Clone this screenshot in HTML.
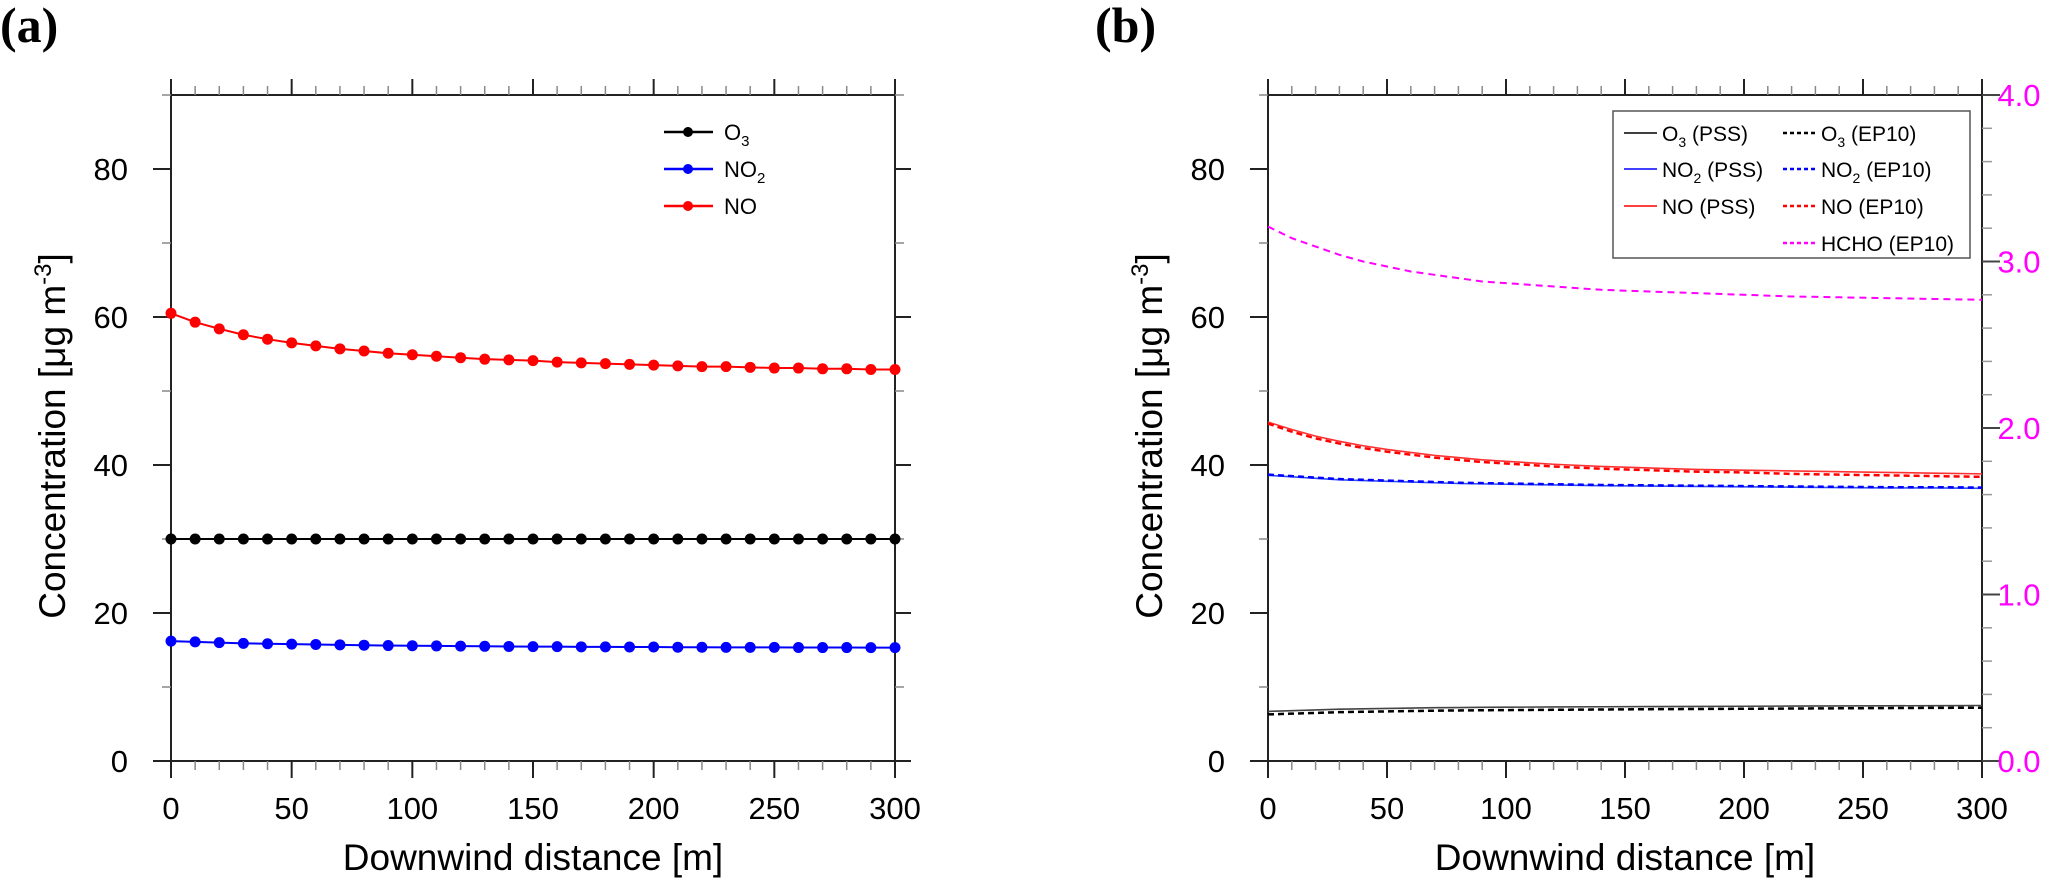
<!DOCTYPE html>
<html><head><meta charset="utf-8"><style>
html,body{margin:0;padding:0;background:#fff;}
svg{display:block;font-family:"Liberation Sans",sans-serif;}
</style></head><body>
<svg id="fig" width="2067" height="880" viewBox="0 0 2067 880" xmlns="http://www.w3.org/2000/svg">
<text x="0" y="42" font-family="Liberation Serif,serif" font-weight="bold" font-size="50">(a)</text>
<text x="1095" y="42" font-family="Liberation Serif,serif" font-weight="bold" font-size="50">(b)</text>
<g id="pa"></g>
<g id="pb"></g>
</svg>
<script>
const distA = [0,10,20,30,40,50,60,70,80,90,100,110,120,130,140,150,160,170,180,190,200,210,220,230,240,250,260,270,280,290,300];
const noA  = [60.5,59.3,58.4,57.6,57.0,56.5,56.1,55.7,55.4,55.1,54.9,54.7,54.5,54.3,54.2,54.1,53.9,53.8,53.7,53.6,53.5,53.4,53.3,53.3,53.2,53.1,53.1,53.0,53.0,52.9,52.9];
const o3A  = [30,30,30,30,30,30,30,30,30,30,30,30,30,30,30,30,30,30,30,30,30,30,30,30,30,30,30,30,30,30,30];
const no2A = [16.2,16.1,16.0,15.9,15.85,15.8,15.75,15.7,15.65,15.6,15.58,15.55,15.52,15.5,15.48,15.46,15.45,15.43,15.42,15.4,15.4,15.38,15.37,15.36,15.35,15.35,15.34,15.33,15.33,15.32,15.32];
const distB = [0,10,20,30,40,50,60,70,80,90,100,120,140,160,180,200,220,240,260,280,300];
const noPss  = [45.8,44.8,43.9,43.2,42.6,42.1,41.7,41.3,41.0,40.7,40.5,40.1,39.8,39.6,39.4,39.3,39.2,39.1,39.0,38.9,38.8];
const noEp   = [45.6,44.5,43.6,42.9,42.3,41.8,41.4,41.0,40.7,40.4,40.2,39.8,39.5,39.3,39.1,39.0,38.8,38.7,38.6,38.5,38.4];
const no2Pss = [38.6,38.4,38.2,38.0,37.9,37.8,37.7,37.6,37.5,37.45,37.4,37.3,37.2,37.15,37.1,37.05,37.0,36.95,36.9,36.9,36.85];
const no2Ep  = [38.7,38.5,38.3,38.1,38.0,37.9,37.8,37.7,37.6,37.55,37.5,37.4,37.3,37.25,37.2,37.15,37.1,37.05,37.0,37.0,36.95];
const o3Pss  = [6.7,6.8,6.9,7.0,7.05,7.1,7.15,7.2,7.22,7.25,7.27,7.3,7.33,7.36,7.38,7.4,7.42,7.44,7.46,7.48,7.5];
const o3Ep   = [6.3,6.4,6.5,6.6,6.65,6.7,6.75,6.8,6.83,6.86,6.88,6.92,6.96,7.0,7.03,7.06,7.09,7.12,7.15,7.18,7.2];
const hcho   = [3.21,3.14,3.09,3.04,3.00,2.97,2.94,2.92,2.90,2.88,2.87,2.85,2.83,2.82,2.81,2.80,2.79,2.785,2.78,2.775,2.77];
const yTicks = [0,20,40,60,80];
const xTicks = [0,50,100,150,200,250,300];
const rTicks = [0,1,2,3,4];

const NS="http://www.w3.org/2000/svg";
function mk(parent,tag,attrs,txt){const e=document.createElementNS(NS,tag);for(const k in attrs)e.setAttribute(k,attrs[k]);if(txt!==undefined)e.textContent=txt;parent.appendChild(e);return e;}

function panel(g,L,R,T,B,rightRange){
  const sx=v=>L+(R-L)*v/300, sy=v=>B-(B-T)*v/90;
  const f=mk(g,'rect',{x:L,y:T,width:R-L,height:B-T,fill:'none',stroke:'#222','stroke-width':2});
  
  
  for(let v=0;v<=300;v+=10){const maj=v%50===0;const x=sx(v);
    mk(g,'line',{x1:x,y1:B,x2:x,y2:B+(maj?17:9),stroke:maj?'#222':'#888','stroke-width':maj?2:1.5});
    mk(g,'line',{x1:x,y1:T,x2:x,y2:T-(maj?16:9),stroke:maj?'#222':'#888','stroke-width':maj?2:1.5});}
  for(let v=0;v<=90;v+=10){const maj=v%20===0;const y=sy(v);
    mk(g,'line',{x1:L,y1:y,x2:L-(maj?18:9),y2:y,stroke:maj?'#222':'#888','stroke-width':maj?2:1.5});
    if(!rightRange) mk(g,'line',{x1:R,y1:y,x2:R+(maj?16:9),y2:y,stroke:maj?'#222':'#888','stroke-width':maj?2:1.5});}
  xTicks.forEach(v=>{const t=mk(g,'text',{x:sx(v),y:819,'font-size':31,'text-anchor':'middle'},String(v));
    
    });
  yTicks.forEach(v=>{const t=mk(g,'text',{x:L-43,y:sy(v)+11,'font-size':31,'text-anchor':'end'},String(v));
    
    });
  const xt=mk(g,'text',{x:(L+R)/2,y:870,'font-size':37,'text-anchor':'middle'},'Downwind distance [m]');
  
  
  const yt=mk(g,'text',{transform:`translate(${L-106},${(T+B)/2+8}) rotate(-90)`,'font-size':37,'text-anchor':'middle'});
  
  
  mk(yt,'tspan',{},'Concentration [μg m');
  mk(yt,'tspan',{dy:-14,'font-size':24},'-3');
  mk(yt,'tspan',{dy:14},']');
  return {sx,sy};
}

function poly(g,xs,ys,sx,sy,color,dash,w,name){
  const p=mk(g,'polyline',{points:xs.map((d,i)=>sx(d)+','+sy(ys[i])).join(' '),fill:'none',stroke:color,'stroke-width':w});
  if(dash)p.setAttribute('stroke-dasharray',dash);
  
  
}

const ga=document.getElementById('pa');
const A=panel(ga,171,895,95,761,false);
[[o3A,'#000','o3'],[no2A,'#0000ff','no2'],[noA,'#ff0000','no']].forEach(([s,c,n])=>{
  poly(ga,distA,s,A.sx,A.sy,c,null,2,n+'-line');
  distA.forEach((d,i)=>{const m=mk(ga,'circle',{cx:A.sx(d),cy:A.sy(s[i]),r:5.5,fill:c});
    
    });
});
const legA=[['#000','O','3'],['#0000ff','NO','2'],['#ff0000','NO','']];
legA.forEach(([c,t,s],i)=>{const y=132+i*37;
  const lg=mk(ga,'g',{});
  
  
  mk(lg,'line',{x1:664,y1:y,x2:713,y2:y,stroke:c,'stroke-width':2.5});
  mk(lg,'circle',{cx:688,cy:y,r:5,fill:c});
  const tx=mk(lg,'text',{x:724,y:y+8,'font-size':22},t);
  if(s)mk(tx,'tspan',{dy:6,'font-size':15},s);
});

const gb=document.getElementById('pb');
const Bp=panel(gb,1268,1982,95,761,true);
const ry=v=>761-(761-95)*v/4;
for(let k=0;k<=20;k++){const v=k*0.2;const maj=k%5===0;
  mk(gb,'line',{x1:1982,y1:ry(v),x2:1982+(maj?18:10),y2:ry(v),stroke:maj?'#444':'#999','stroke-width':maj?2:1.5});}
rTicks.forEach(v=>{const t=mk(gb,'text',{x:2019,y:ry(v)+11,'font-size':31,'text-anchor':'middle',fill:'#ff00ff'},v.toFixed(1));
  
  });
poly(gb,distB,noPss,Bp.sx,Bp.sy,'#ff3030',null,1.6,'no-pss-line');
poly(gb,distB,noEp,Bp.sx,Bp.sy,'#ff0000','6 4',2.5,'no-ep10-line');
poly(gb,distB,no2Pss,Bp.sx,Bp.sy,'#3050ff',null,1.6,'no2-pss-line');
poly(gb,distB,no2Ep,Bp.sx,Bp.sy,'#0000ff','6 4',2.5,'no2-ep10-line');
poly(gb,distB,o3Pss,Bp.sx,Bp.sy,'#444',null,1.6,'o3-pss-line');
poly(gb,distB,o3Ep,Bp.sx,Bp.sy,'#000','6 4',2.5,'o3-ep10-line');
poly(gb,distB,hcho,Bp.sx,v=>ry(v),'#ff00ff','7 5',2,'hcho-ep10-line');
const box=mk(gb,'rect',{x:1613,y:111,width:357,height:147,fill:'#fff',stroke:'#555','stroke-width':1.5});


const legB=[[1624,133,'#000',null,'O','3',' (PSS)'],[1624,169,'#0000ff',null,'NO','2',' (PSS)'],[1624,206,'#ff0000',null,'NO','',' (PSS)'],
 [1783,133,'#000','4 3','O','3',' (EP10)'],[1783,169,'#0000ff','4 3','NO','2',' (EP10)'],[1783,206,'#ff0000','4 3','NO','',' (EP10)'],[1783,243,'#ff00ff','4 3','HCHO','',' (EP10)']];
legB.forEach(([x,y,c,d,t,s,e])=>{
  const lg=mk(gb,'g',{});
  
  
  const l=mk(lg,'line',{x1:x,y1:y,x2:x+33,y2:y,stroke:c,'stroke-width':d?2.5:1.5});
  if(d)l.setAttribute('stroke-dasharray',d);
  const tx=mk(lg,'text',{x:x+38,y:y+8,'font-size':21},t);
  if(s){mk(tx,'tspan',{dy:6,'font-size':14},s);mk(tx,'tspan',{dy:-6},e);}else mk(tx,'tspan',{},e);
});
</script>
</body></html>
